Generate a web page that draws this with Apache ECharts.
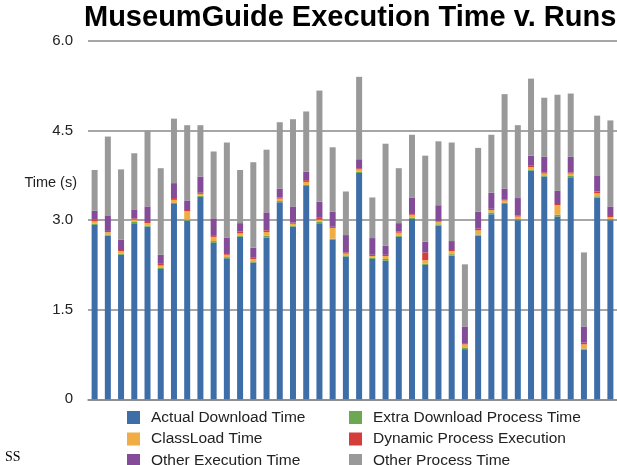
<!DOCTYPE html>
<html>
<head>
<meta charset="utf-8">
<title>MuseumGuide Execution Time v. Runs</title>
<script src="https://cdn.jsdelivr.net/npm/echarts@6/dist/echarts.min.js"></script>
<style>
  html, body { margin: 0; padding: 0; background: #fff; }
  #chart { width: 617px; height: 465px; }
</style>
</head>
<body>
<div id="chart"></div>
<script>
// one bar per run
const runs = []
for (let i = 1; i <= 40; i++) runs.push(String(i))

const yTicks = [0, 1.5, 3.0, 4.5, 6.0]

const actualDownload = [2.92, 2.74, 2.42, 2.95, 2.89, 2.18, 3.27, 2.99, 3.39, 2.62, 2.36, 2.72, 2.29, 2.71, 3.30, 2.89, 3.57, 2.95, 2.67, 2.39,
  3.79, 2.35, 2.32, 2.72, 3.02, 2.25, 2.91, 2.41, 0.84, 2.74, 3.10, 3.27, 3.00, 3.83, 3.73, 3.06, 3.72, 0.83, 3.38, 3.00]
const extraDownload = [0.02, 0.02, 0.02, 0.02, 0.02, 0.02, 0.02, 0.02, 0.02, 0.03, 0.02, 0.02, 0.02, 0.03, 0.02, 0.02, 0.02, 0.02, 0.02, 0.02,
  0.02, 0.02, 0.03, 0.02, 0.02, 0.02, 0.02, 0.02, 0.02, 0.02, 0.03, 0.02, 0.02, 0.02, 0.02, 0.03, 0.02, 0.02, 0.02, 0.02]
const classLoad = [0.04, 0.04, 0.04, 0.04, 0.04, 0.04, 0.05, 0.14, 0.03, 0.07, 0.04, 0.04, 0.04, 0.06, 0.04, 0.03, 0.05, 0.04, 0.18, 0.03,
  0.04, 0.03, 0.05, 0.05, 0.05, 0.06, 0.04, 0.05, 0.06, 0.07, 0.04, 0.04, 0.04, 0.04, 0.03, 0.16, 0.04, 0.07, 0.05, 0.03]
const dynamicProcess = [0.03, 0.02, 0.02, 0.02, 0.02, 0.04, 0.03, 0.02, 0.02, 0.03, 0.03, 0.03, 0.03, 0.03, 0.02, 0.02, 0.03, 0.03, 0.02, 0.02,
  0.02, 0.02, 0.02, 0.02, 0.03, 0.13, 0.01, 0.02, 0.02, 0.03, 0.02, 0.02, 0.02, 0.02, 0.02, 0.02, 0.02, 0.03, 0.03, 0.02]
const otherExecution = [0.15, 0.26, 0.17, 0.15, 0.26, 0.14, 0.25, 0.16, 0.27, 0.28, 0.26, 0.14, 0.16, 0.30, 0.15, 0.27, 0.14, 0.27, 0.25, 0.29,
  0.15, 0.28, 0.15, 0.14, 0.26, 0.18, 0.27, 0.15, 0.28, 0.28, 0.27, 0.18, 0.29, 0.17, 0.26, 0.22, 0.26, 0.27, 0.27, 0.16]
const otherProcess = [0.68, 1.32, 1.18, 0.94, 1.27, 1.45, 1.08, 1.26, 0.86, 1.12, 1.59, 0.89, 1.43, 1.05, 1.11, 1.46, 1.01, 1.86, 1.08, 0.73,
  1.38, 0.68, 1.71, 0.92, 1.05, 1.44, 1.07, 1.65, 1.04, 1.07, 0.97, 1.58, 1.22, 1.29, 0.99, 1.61, 1.06, 1.24, 1.00, 1.44]

const font = 'Liberation Sans, Helvetica, Arial, sans-serif'

function bar(name, data, color) {
  return {
    name: name,
    type: 'bar',
    stack: 'time',
    barWidth: 6,
    data: data,
    itemStyle: { color: color },
    emphasis: { disabled: true }
  }
}

function legendBlock(left, names) {
  return {
    orient: 'vertical',
    left: left,
    top: 409.5,
    height: 60,
    padding: 0,
    itemWidth: 13,
    itemHeight: 13,
    itemGap: 5.5,
    icon: 'rect',
    textStyle: { fontFamily: font, fontSize: 15.5, color: '#222', padding: [0, 0, 0, 6] },
    data: names
  }
}

const chart = echarts.init(document.getElementById('chart'), null, { renderer: 'canvas' })
chart.setOption({
  animation: false,
  title: {
    text: 'MuseumGuide Execution Time v. Runs',
    left: 79,
    top: -2,
    textStyle: { fontFamily: font, fontSize: 29, fontWeight: 'bold', color: '#000' }
  },
  legend: [
    legendBlock(127, ['Actual Download Time', 'ClassLoad Time', 'Other Execution Time']),
    legendBlock(349, ['Extra Download Process Time', 'Dynamic Process Execution', 'Other Process Time'])
  ],
  graphic: [{
    type: 'text',
    right: 617 - 77,
    top: 175,
    style: { text: 'Time (s)', font: '14.5px ' + font, fill: '#222' }
  }, {
    type: 'text',
    left: 5,
    top: 450,
    style: { text: 'SS', font: '14px Liberation Serif, Times New Roman, serif', fill: '#000' }
  }],
  grid: {
    left: 88,
    top: 41,
    right: -7,
    bottom: 65.7
  },
  xAxis: {
    type: 'category',
    data: runs,
    axisLine: { show: true, lineStyle: { color: '#888', width: 1.5 } },
    axisTick: { show: false },
    axisLabel: { show: false }
  },
  yAxis: {
    type: 'value',
    min: yTicks[0],
    max: yTicks[yTicks.length - 1],
    interval: 1.5,
    axisLine: { show: false },
    axisTick: { show: false },
    axisLabel: {
      margin: 15,
      fontFamily: font,
      fontSize: 15,
      color: '#222',
      formatter: v => (v === 0 ? '0' : v.toFixed(1))
    },
    splitLine: { lineStyle: { color: '#888', width: 1.5 } }
  },
  series: [
    bar('Actual Download Time', actualDownload, '#3d6ea8'),
    bar('Extra Download Process Time', extraDownload, '#6ba851'),
    bar('ClassLoad Time', classLoad, '#f0ad45'),
    bar('Dynamic Process Execution', dynamicProcess, '#d43d3a'),
    bar('Other Execution Time', otherExecution, '#844b98'),
    bar('Other Process Time', otherProcess, '#999999')
  ]
})
</script>
</body>
</html>
